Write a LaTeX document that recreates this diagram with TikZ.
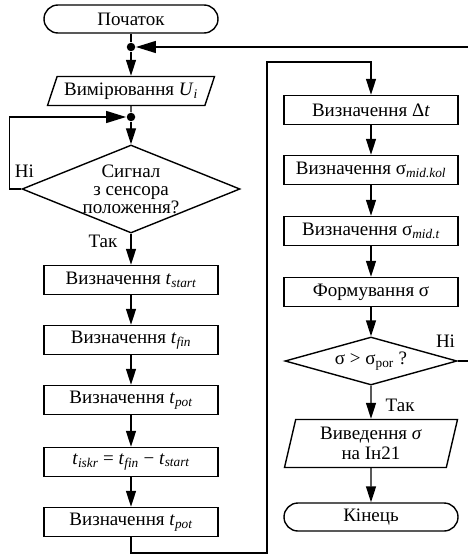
\documentclass[tikz,border=0pt]{standalone}
\usepackage{fontspec}
\setmainfont{Liberation Serif}
\usetikzlibrary{arrows.meta,positioning,shapes.geometric}
\newcommand{\lowidx}[1]{\textsubscript{\itshape #1}}

\begin{document}
\begin{tikzpicture}[
    x=1pt,y=1pt,
    line width=1.4pt,
    font=\fontsize{19}{21}\selectfont,
    box/.style={draw,minimum width=174pt,minimum height=29pt,inner sep=2pt},
    term/.style={draw,rounded corners=14pt,minimum width=174pt,minimum height=28pt,inner sep=2pt},
    io/.style={draw,trapezium,trapezium left angle=65,trapezium right angle=115,trapezium stretches body,minimum width=167pt,minimum height=29pt,inner sep=2pt},
    test/.style={draw,diamond,inner sep=-6pt,align=center},
    dot/.style={circle,fill,inner sep=0pt,minimum size=8.5pt},
    lbl/.style={inner sep=1pt},
    arrow/.style={-{Triangle[length=16pt,width=10pt]}},
    harrow/.style={-{Triangle[length=20pt,width=12pt]}}
  ]
  \useasboundingbox (0,0) rectangle (468,-559);
  % left column
  \node[term] (start) at (131,-19) {Початок};
  \node[dot] (dot1) at (131,-47) {};
  \node[io] (meas) at (131,-91) {Вимірювання \textit{U}\lowidx{i}};
  \node[dot] (dot2) at (131,-117) {};
  \node[test,aspect=2.48,minimum width=218pt,minimum height=88pt,
    font=\fontsize{19}{18}\selectfont] (sens) at (131,-189) {Сигнал\\з сенсора\\положення?};
  \node[box] (tstart) at (131,-280) {Визначення \textit{t}\lowidx{start}};
  \node[box] (tfin) at (131,-340) {Визначення \textit{t}\lowidx{fin}};
  \node[box] (tpot) at (131,-400) {Визначення \textit{t}\lowidx{pot}};
  \node[box] (tiskr) at (131,-462) {\textit{t}\lowidx{iskr} = \textit{t}\lowidx{fin} − \textit{t}\lowidx{start}};
  \node[box] (tpot2) at (131,-522) {Визначення \textit{t}\lowidx{pot}};
  % right column
  \node[box] (dt) at (371,-110) {Визначення Δ\textit{t}};
  \node[box] (skol) at (371,-170) {Визначення σ\lowidx{mid.kol}};
  \node[box] (smt) at (371,-231) {Визначення σ\lowidx{mid.t}};
  \node[box] (form) at (371,-292) {Формування σ};
  \node[test,aspect=3.58,minimum width=172pt,minimum height=48pt] (cmp) at (371,-361) {σ > σ\textsubscript{por} ?};
  \node[io,trapezium left angle=73,trapezium right angle=107,minimum width=173pt,minimum height=48pt,
    align=center,font=\fontsize{19}{20}\selectfont] (out) at (371,-443.5) {Виведення \textit{σ}\\на Ін21};
  \node[term] (fin) at (371,-517) {Кінець};
  % labels
  \node[lbl,above=10pt of sens.west,xshift=3pt] (no1) {Ні};
  \node[lbl,below left=0pt and 12pt of sens.south] (yes1) {Так};
  \node[lbl,below right=12pt and 13pt of cmp.south] (yes2) {Так};
  \node[lbl,above left=12pt and 1pt of cmp.east] (no2) {Ні};
  % connectors
  \coordinate (lowturn) at (267,-553);
  \coordinate (highturn) at (267,-62);
  \coordinate (rturn) at (469,-47);
  \draw (start) -- (dot1);
  \draw[arrow] (dot1) -- (meas);
  \draw (meas) -- (dot2);
  \draw[arrow] (dot2) -- (sens);
  \draw[harrow] (sens.west) -- ++(-12pt,0) |- (dot2);
  \draw[arrow] (sens) -- (tstart);
  \draw[arrow] (tstart) -- (tfin);
  \draw[arrow] (tfin) -- (tpot);
  \draw[arrow] (tpot) -- (tiskr);
  \draw[arrow] (tiskr) -- (tpot2);
  \draw[arrow] (tpot2) |- (lowturn) -- (highturn) -| (dt);
  \draw[arrow] (dt) -- (skol);
  \draw[arrow] (skol) -- (smt);
  \draw[arrow] (smt) -- (form);
  \draw[arrow] (form) -- (cmp);
  \draw[arrow] (cmp) -- (out);
  \draw[arrow] (out) -- (fin);
  \draw[harrow] (cmp.east) -| (rturn) -- (dot1);
\end{tikzpicture}
\end{document}
